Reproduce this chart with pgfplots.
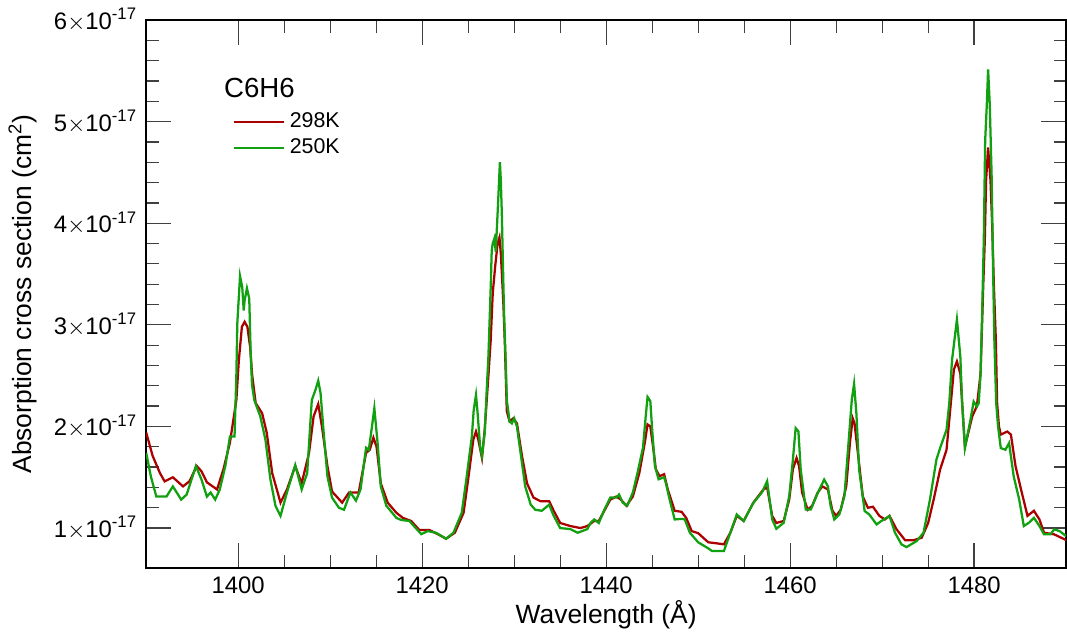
\documentclass[border=0pt]{standalone}
\usepackage{fontspec}
\setmainfont{Liberation Sans}
\usepackage{pgfplots}
\pgfplotsset{compat=1.18}
\usepackage{pgfplotstable}

\definecolor{hot}{RGB}{170,0,0}
\definecolor{cold}{RGB}{16,160,16}

% wavelength (A), cross section in 1e-17 cm^2
\pgfplotstableread{
wl sig
1390.0 1.94
1390.7 1.71
1391.5 1.54
1392.0 1.46
1392.9 1.50
1394.0 1.41
1394.7 1.46
1395.5 1.61
1396.0 1.56
1396.6 1.45
1397.7 1.38
1398.4 1.58
1399.1 1.84
1399.8 2.26
1400.07 2.65
1400.4 2.98
1400.7 3.03
1401.0 2.98
1401.3 2.78
1401.5 2.52
1401.9 2.23
1402.6 2.13
1403.1 1.94
1403.7 1.54
1404.6 1.25
1405.3 1.38
1406.2 1.61
1406.9 1.44
1407.7 1.74
1408.2 2.10
1408.7 2.22
1409.1 2.00
1409.7 1.61
1410.2 1.36
1411.3 1.25
1412.05 1.35
1412.6 1.35
1413.1 1.35
1413.9 1.74
1414.3 1.77
1414.7 1.89
1415.04 1.80
1415.5 1.44
1416.25 1.25
1417.2 1.15
1417.9 1.10
1418.8 1.07
1419.7 0.98
1420.8 0.98
1421.7 0.94
1422.6 0.895
1423.55 0.954
1424.5 1.15
1425.0 1.48
1425.56 1.87
1425.85 1.95
1426.1 1.87
1426.5 1.69
1426.8 1.97
1427.2 2.50
1427.45 2.85
1427.67 3.31
1427.93 3.57
1428.2 3.80
1428.4 3.86
1428.55 3.70
1428.7 3.44
1428.84 3.18
1429.0 2.78
1429.2 2.15
1429.5 2.05
1429.9 2.08
1430.3 2.03
1430.85 1.71
1431.4 1.44
1432.1 1.30
1432.85 1.265
1433.8 1.265
1434.3 1.17
1435.0 1.05
1436.1 1.02
1437.2 1.00
1437.96 1.02
1438.7 1.07
1439.2 1.07
1440.45 1.28
1441.1 1.31
1441.6 1.28
1442.2 1.22
1442.9 1.31
1443.6 1.54
1444.2 1.84
1444.5 2.02
1444.8 2.00
1445.1 1.80
1445.4 1.58
1445.8 1.51
1446.3 1.53
1446.7 1.38
1447.45 1.17
1448.2 1.16
1448.7 1.10
1449.3 0.97
1450.0 0.95
1451.1 0.86
1452.0 0.85
1452.8 0.84
1453.5 0.954
1454.2 1.12
1454.95 1.07
1456.0 1.25
1457.1 1.38
1457.5 1.40
1458.05 1.12
1458.5 1.05
1459.3 1.07
1459.9 1.28
1460.3 1.58
1460.7 1.69
1460.97 1.61
1461.3 1.35
1461.9 1.18
1462.4 1.22
1463.0 1.35
1463.5 1.41
1464.1 1.38
1464.6 1.17
1465.0 1.12
1465.5 1.18
1466.1 1.41
1466.5 1.84
1466.8 2.08
1467.0 2.03
1467.4 1.71
1467.9 1.31
1468.45 1.20
1469.0 1.21
1469.7 1.12
1470.3 1.085
1470.8 1.12
1471.55 0.99
1472.5 0.88
1473.4 0.88
1474.3 0.905
1475.0 1.05
1475.6 1.28
1476.3 1.575
1477.0 1.77
1477.6 2.36
1477.8 2.56
1478.13 2.64
1478.5 2.52
1478.7 2.23
1479.0 1.80
1479.4 1.95
1479.8 2.10
1480.3 2.20
1480.7 2.52
1481.0 3.41
1481.16 3.83
1481.3 4.42
1481.52 4.745
1481.78 4.42
1481.96 3.99
1482.14 3.41
1482.36 2.85
1482.5 2.23
1482.7 2.00
1482.9 1.92
1483.6 1.95
1484.0 1.92
1484.5 1.61
1485.1 1.38
1485.8 1.12
1486.5 1.17
1487.1 1.085
1487.6 0.954
1488.7 0.938
1490.0 0.882
}\hotdata

\pgfplotstableread{
wl sig
1390.0 1.74
1390.5 1.51
1391.1 1.31
1392.2 1.31
1392.9 1.41
1393.8 1.28
1394.4 1.33
1395.4 1.61
1396.0 1.48
1396.6 1.31
1397.0 1.35
1397.5 1.28
1398.0 1.38
1398.6 1.61
1399.1 1.90
1399.6 1.90
1399.8 2.50
1399.9 3.01
1400.2 3.48
1400.44 3.37
1400.6 3.14
1400.7 3.24
1400.95 3.36
1401.2 3.26
1401.35 2.75
1401.5 2.41
1401.75 2.26
1402.4 2.10
1402.96 1.87
1403.5 1.48
1404.05 1.22
1404.6 1.12
1405.3 1.35
1406.2 1.62
1406.9 1.38
1407.5 1.54
1408.0 2.26
1408.4 2.36
1408.7 2.45
1408.95 2.33
1409.3 1.93
1409.7 1.51
1410.2 1.30
1410.95 1.20
1411.5 1.18
1412.2 1.35
1412.8 1.27
1413.3 1.38
1413.9 1.79
1414.2 1.77
1414.5 1.97
1414.8 2.18
1415.15 1.84
1415.5 1.41
1416.1 1.22
1417.2 1.10
1417.7 1.08
1418.6 1.07
1419.9 0.94
1420.6 0.97
1421.5 0.954
1422.6 0.895
1423.4 0.954
1424.3 1.15
1424.8 1.48
1425.4 1.90
1425.6 2.16
1425.85 2.31
1426.0 2.16
1426.3 1.80
1426.5 1.71
1426.8 1.94
1427.0 2.33
1427.2 2.69
1427.45 3.37
1427.56 3.73
1427.67 3.80
1427.85 3.85
1428.0 3.72
1428.2 4.10
1428.35 4.40
1428.45 4.60
1428.55 4.42
1428.66 4.09
1428.77 3.63
1428.9 3.11
1429.1 2.59
1429.2 2.26
1429.5 2.05
1429.75 2.03
1430.0 2.08
1430.3 2.00
1430.85 1.64
1431.2 1.41
1431.8 1.23
1432.3 1.18
1433.0 1.17
1433.8 1.23
1434.3 1.12
1435.0 1.00
1436.1 0.99
1436.9 0.954
1437.96 0.99
1438.3 1.05
1438.7 1.085
1439.2 1.05
1439.8 1.18
1440.45 1.30
1441.1 1.30
1441.4 1.33
1441.8 1.25
1442.3 1.22
1442.9 1.35
1443.4 1.54
1444.0 1.79
1444.3 2.10
1444.5 2.29
1444.8 2.25
1445.0 1.97
1445.3 1.61
1445.7 1.48
1446.3 1.50
1446.5 1.44
1446.9 1.28
1447.45 1.085
1448.2 1.09
1448.55 1.085
1449.1 0.954
1450.0 0.86
1451.1 0.80
1451.5 0.774
1452.8 0.774
1453.5 0.954
1454.2 1.134
1454.95 1.069
1456.0 1.248
1456.95 1.353
1457.5 1.461
1458.05 1.085
1458.5 0.993
1459.3 1.052
1459.9 1.314
1460.3 1.673
1460.6 1.983
1460.9 1.951
1461.15 1.575
1461.7 1.183
1462.25 1.183
1463.0 1.346
1463.7 1.477
1464.1 1.412
1464.4 1.216
1464.8 1.085
1465.35 1.134
1465.9 1.314
1466.4 1.902
1466.7 2.26
1466.95 2.42
1467.2 2.13
1467.5 1.575
1468.1 1.167
1468.6 1.134
1469.4 1.036
1469.9 1.069
1470.8 1.118
1471.4 0.954
1472.1 0.84
1472.65 0.813
1473.75 0.872
1474.5 0.954
1475.2 1.281
1475.9 1.673
1476.3 1.787
1477.0 1.967
1477.3 2.23
1477.6 2.654
1478.13 3.053
1478.5 2.69
1478.7 2.23
1479.0 1.787
1479.6 2.065
1479.95 2.245
1480.3 2.196
1480.5 2.23
1480.7 2.52
1480.87 3.11
1481.05 3.83
1481.2 4.81
1481.38 5.17
1481.52 5.513
1481.7 5.17
1481.9 4.48
1482.07 3.50
1482.2 2.85
1482.4 2.23
1482.6 2.00
1482.9 1.787
1483.4 1.771
1483.8 1.836
1484.3 1.51
1484.9 1.281
1485.4 1.02
1485.95 1.052
1486.5 1.101
1487.1 1.02
1487.6 0.938
1488.3 0.938
1488.7 0.987
1489.3 0.97
1490.0 0.921
}\colddata

\begin{document}
\begin{tikzpicture}
\begin{axis}[
  scale only axis,
  width=366pt, height=218pt,
  xmin=1390, xmax=1490,
  ymin=0.608, ymax=6,
  xtick={1400,1420,1440,1460,1480},
  minor x tick num=3,
  ytick={1,2,3,4,5,6},
  minor y tick num=4,
  yticklabels={1$\times$10\textsuperscript{-17},2$\times$10\textsuperscript{-17},3$\times$10\textsuperscript{-17},4$\times$10\textsuperscript{-17},5$\times$10\textsuperscript{-17},6$\times$10\textsuperscript{-17}},
  /pgf/number format/assume math mode=true,
  xticklabel style={/pgf/number format/1000 sep={}, font=\fontsize{9.5}{11}\selectfont},
  yticklabel style={font=\fontsize{9.5}{11}\selectfont},
  major tick length=10pt,
  minor tick length=5pt,
  every tick/.style={black!75, line width=0.5pt},
  axis line style={line width=0.7pt},
  xlabel={Wavelength (Å)},
  ylabel={Absorption cross section (cm\textsuperscript{2})},
  label style={font=\fontsize{10.5}{12}\selectfont},
  xlabel style={yshift=4pt},
  legend style={at={(rel axis cs:0.085,0.85)}, anchor=north west, draw=none, fill=none,
    font=\fontsize{8.5}{10}\selectfont, row sep=-1pt},
  legend cell align=left,
  legend image code/.code={\draw[#1] (0cm,0cm) -- (0.7cm,0cm);},
]
\addplot[hot, line width=0.9pt] table[x=wl, y=sig] {\hotdata};
\addlegendentry{298K}
\addplot[cold, line width=0.9pt] table[x=wl, y=sig] {\colddata};
\addlegendentry{250K}
\node[anchor=west, font=\fontsize{11}{13}\selectfont] at (rel axis cs:0.075,0.876) {C6H6};
\end{axis}
\end{tikzpicture}
\end{document}
